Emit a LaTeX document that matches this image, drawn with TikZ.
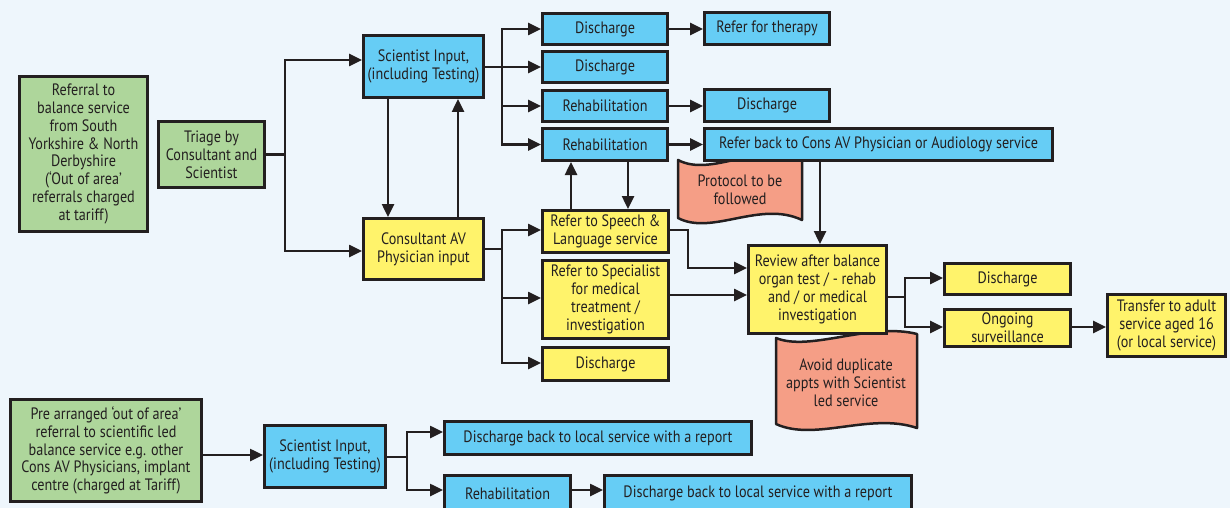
\documentclass[tikz,border=0pt]{standalone}
\usepackage{fontspec}
\setmainfont{PT Sans}[FakeStretch=0.86]
\usetikzlibrary{arrows.meta}
\definecolor{bg}{HTML}{EEF6FC}
\definecolor{ink}{HTML}{231F20}
\definecolor{sky}{HTML}{66CDF5}
\definecolor{lemon}{HTML}{FFF36B}
\definecolor{sage}{HTML}{AED69B}
\definecolor{salmon}{HTML}{F59E86}
\tikzset{
  box/.style={draw=ink, line width=3pt, inner sep=0pt, align=center, text=ink,
              font=\fontsize{16.5}{17.8}\selectfont},
  bluebox/.style={box, fill=sky},
  yellowbox/.style={box, fill=lemon},
  greenbox/.style={box, fill=sage},
  docshape/.style={draw=ink, line width=2.5pt, fill=salmon, line join=round},
  note/.style={inner sep=0pt, align=center, text=ink, font=\fontsize{16.5}{17.8}\selectfont},
  link/.style={draw=ink, line width=2.5pt},
  arr/.style={link, -{Triangle[length=13pt,width=12pt]}},
}
\begin{document}
\begin{tikzpicture}[x=1pt,y=-1pt]
\fill[bg] (0,0) rectangle (1230,508);
\useasboundingbox (0,0) rectangle (1230,508);

% notes behind the boxes
\draw[docshape] (678,160) .. controls (712,178) and (760,140) .. (802,160) -- (802,220)
  .. controls (760,200) and (712,236) .. (678,218) -- cycle;
\node[note] (prot) at (740,190) {Protocol to be\\followed};
\draw[docshape] (776,338) .. controls (810,352) and (870,322) .. (917,334) -- (917,428)
  .. controls (870,412) and (815,442) .. (776,424) -- cycle;
\node[note] (avoid) at (846,383) {Avoid duplicate\\appts with Scientist\\led service};

% entry boxes
\node[greenbox, minimum width=128pt, minimum height=155pt] (g1) at (83.5,154)
  {Referral to\\balance service\\from South\\Yorkshire \& North\\Derbyshire\\(‘Out of area’\\referrals charged\\at tariff)};
\node[greenbox, minimum width=106pt, minimum height=66pt] (tri) at (211.5,154.5)
  {Triage by\\Consultant and\\Scientist};
\node[bluebox, minimum width=120pt, minimum height=62pt] (sci1) at (423.5,66.5)
  {Scientist Input,\\(including Testing)};
\node[yellowbox, minimum width=120pt, minimum height=61pt] (cons) at (423.5,249)
  {Consultant AV\\Physician input};

% scientist pathway
\node[bluebox, minimum width=125pt, minimum height=31pt] (d1) at (605,29) {Discharge};
\node[bluebox, minimum width=125pt, minimum height=31pt] (d2) at (605,67) {Discharge};
\node[bluebox, minimum width=125pt, minimum height=31pt] (r1) at (605,106) {Rehabilitation};
\node[bluebox, minimum width=125pt, minimum height=32pt] (r2) at (605,144.5) {Rehabilitation};
\node[bluebox, minimum width=125pt, minimum height=32pt] (ther) at (767,28.5) {Refer for therapy};
\node[bluebox, minimum width=125pt, minimum height=32pt] (d3) at (767,105.5) {Discharge};
\node[bluebox, minimum width=348pt, minimum height=32pt] (back) at (878.5,144.5)
  {Refer back to Cons AV Physician or Audiology service};

% consultant pathway
\node[yellowbox, minimum width=126pt, minimum height=42pt] (speech) at (605.5,231.5)
  {Refer to Speech \&\\Language service};
\node[yellowbox, minimum width=126pt, minimum height=78pt] (spec) at (605.5,299.5)
  {Refer to Specialist\\for medical\\treatment /\\investigation};
\node[yellowbox, minimum width=126pt, minimum height=33pt] (yd) at (605.5,364) {Discharge};
\node[yellowbox, minimum width=138pt, minimum height=88pt] (rev) at (817.5,289.5)
  {Review after balance\\organ test / - rehab\\and / or medical\\investigation};
\node[yellowbox, minimum width=126pt, minimum height=31pt] (rd) at (1007.5,279) {Discharge};
\node[yellowbox, minimum width=126pt, minimum height=37pt] (ongo) at (1007.5,328)
  {Ongoing\\surveillance};
\node[yellowbox, minimum width=118pt, minimum height=62pt] (adult) at (1166.5,325.5)
  {Transfer to adult\\service aged 16\\(or local service)};

% pre-arranged referrals
\node[greenbox, minimum width=191pt, minimum height=102pt] (g3) at (106,450.5)
  {Pre arranged ‘out of area’\\referral to scientific led\\balance service e.g. other\\Cons AV Physicians, implant\\centre (charged at Tariff)};
\node[bluebox, minimum width=121pt, minimum height=62pt] (sci2) at (325,456.5)
  {Scientist Input,\\(including Testing)};
\node[bluebox, minimum width=307pt, minimum height=33pt] (db1) at (598,438)
  {Discharge back to local service with a report};
\node[bluebox, minimum width=126pt, minimum height=36pt] (r3) at (507.5,493.5) {Rehabilitation};
\node[bluebox, minimum width=307pt, minimum height=36pt] (db2) at (758,493.5)
  {Discharge back to local service with a report};

% triage split
\coordinate (jt) at (285,154.5);
\draw[link] (tri.east) -- (jt);
\draw[arr] (jt) |- ([yshift=6.5pt]sci1.west);
\draw[arr] (jt) |- ([yshift=-2pt]cons.west);

% scientist outcomes
\coordinate (js) at (502,67);
\draw[arr] (sci1.east |- js) -- (d2.west);
\draw[arr] (js) |- (d1.west);
\draw[arr] (js) |- (r1.west);
\draw[arr] (js) |- (r2.west);
\draw[arr] (d1.east) -- (d1.east -| ther.west);
\draw[arr] (r1.east) -- (r1.east -| d3.west);
\draw[arr] (r2.east) -- (r2.east -| back.west);

% scientist <-> consultant
\draw[arr] ([xshift=-35.5pt]sci1.south) -- ([xshift=-35.5pt]cons.north);
\draw[arr] ([xshift=34.5pt]cons.north) -- ([xshift=34.5pt]sci1.south);

% consultant outcomes
\coordinate (jc) at (502,249);
\draw[link] (cons.east) -- (jc);
\draw[arr] (jc) |- ([yshift=1.5pt]speech.west);
\draw[arr] (jc) |- ([yshift=1.5pt]spec.west);
\draw[arr] (jc) |- ([yshift=1pt]yd.west);

% speech & language <-> rehabilitation
\draw[arr] ([xshift=-34.5pt]speech.north) -- ([xshift=-34pt]r2.south);
\draw[arr] ([xshift=23pt]r2.south) -- ([xshift=22.5pt]speech.north);

% into the review
\draw[arr] ([yshift=1.5pt]speech.east) -- (688,230) |- ([yshift=21.5pt]rev.west);
\draw[arr] ([yshift=4.5pt]spec.east) -- ([yshift=-5.5pt]rev.west);
\draw[arr] ([xshift=-58.5pt]back.south) -- ([xshift=2.5pt]rev.north);

% review outcomes
\coordinate (jr) at (905,297);
\draw[link] (rev.east |- jr) -- (jr);
\draw[arr] (jr) |- ([yshift=1pt]rd.west);
\draw[arr] (jr) |- ([yshift=1pt]ongo.west);
\draw[arr] ([yshift=1pt]ongo.east) -- ([yshift=-1.5pt]adult.west);

% pre-arranged pathway
\draw[arr] ([yshift=-4.5pt]g3.east) -- ([yshift=1.5pt]sci2.west);
\coordinate (jb) at (407,457);
\draw[link] (sci2.east |- jb) -- (jb);
\draw[arr] (jb) |- ([yshift=6pt]db1.west);
\draw[arr] (jb) |- ([yshift=3.5pt]r3.west);
\draw[arr] ([yshift=3.5pt]r3.east) -- ([yshift=3.5pt]db2.west);
\end{tikzpicture}
\end{document}
